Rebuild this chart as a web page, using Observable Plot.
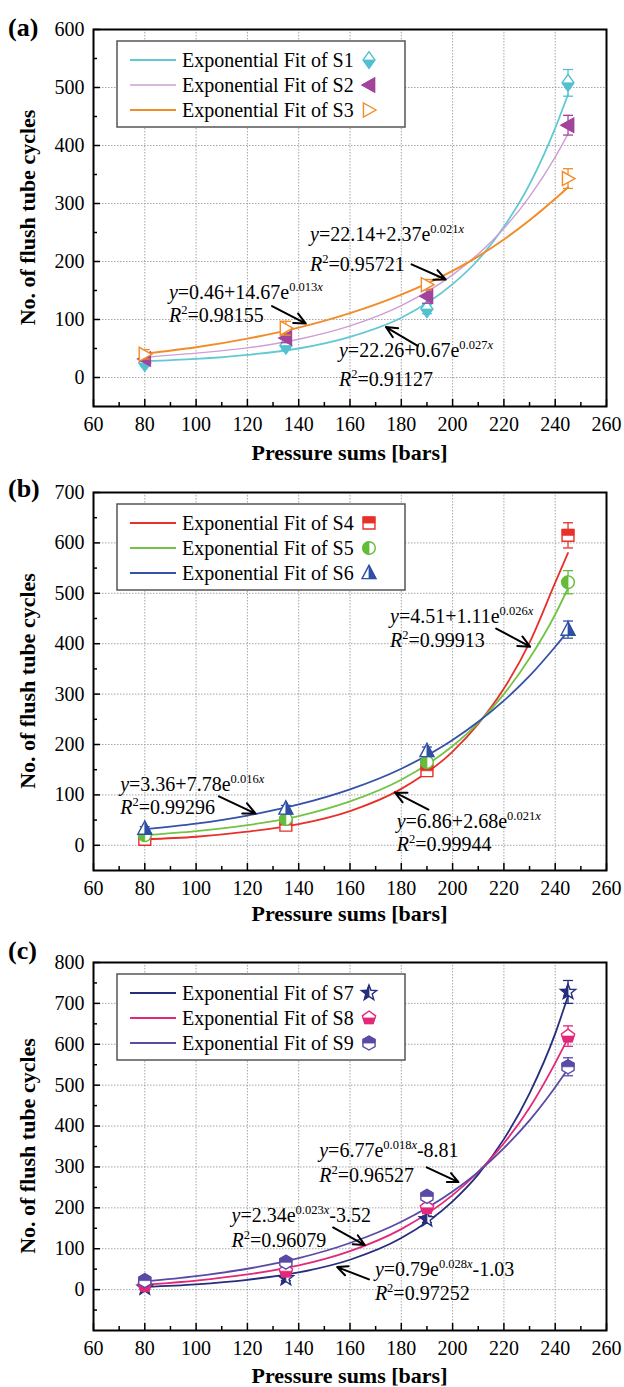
<!DOCTYPE html>
<html><head><meta charset="utf-8">
<script src="https://cdn.jsdelivr.net/npm/d3@7"></script>
<script src="https://cdn.jsdelivr.net/npm/@observablehq/plot@0.6"></script>
<style>
body{margin:0;background:#fff;}
#wrap{width:624px;}
svg{display:block;}
svg text{font-family:"Liberation Serif","Times New Roman",serif;}
</style></head><body><div id="wrap"></div>
<script>
// ---------- data ----------
const pressure = [80, 135, 190, 245];
const fitX = [80, 100, 120, 140, 160, 180, 200, 210, 220, 230, 240, 245];
const xLabels = [60, 80, 100, 120, 140, 160, 180, 200, 220, 240, 260];

// panel (a)
const s1 = [25, 55, 118, 508], s1Err = [5, 6, 8, 23];
const s2 = [32, 68, 140, 435], s2Err = [4, 8, 12, 17];
const s3 = [40, 85, 160, 343], s3Err = [8, 12, 9, 17];
const s1Fit = [28, 32, 39, 50, 70, 103, 161, 203, 260, 333, 430, 488];
const s2Fit = [35, 42, 51, 66, 89, 124, 177, 213, 257, 312, 380, 420];
const s3Fit = [41, 52, 67, 86, 111, 143, 184, 209, 238, 271, 308, 328];
const eqTextA = ["y=22.14+2.37e^{0.021x}", "R^{2}=0.95721", "y=0.46+14.67e^{0.013x}", "R^{2}=0.98155", "y=22.26+0.67e^{0.027x}", "R^{2}=0.91127"];
const eqXA = [144.4, 144.4, 89.4, 89.4, 155.7, 155.7];
const eqYA = [247, 195, 146, 106, 46, -3];
const arrowsA = [[184, 195, 197.3, 169], [129.6, 123, 142.8, 93], [186.4, 54.5, 174, 87]];

// panel (b)
const s4 = [12, 40, 148, 615], s4Err = [4, 5, 8, 25];
const s5 = [20, 52, 165, 522], s5Err = [3, 5, 8, 23];
const s6 = [33, 73, 187, 428], s6Err = [4, 6, 8, 17];
const s4Fit = [12, 17, 27, 42, 68, 112, 186, 241, 311, 402, 521, 580];
const s5Fit = [20, 28, 40, 58, 87, 130, 197, 243, 300, 371, 458, 510];
const s6Fit = [32, 43, 59, 81, 111, 152, 209, 245, 287, 336, 394, 425];
const eqTextB = ["y=4.51+1.11e^{0.026x}", "R^{2}=0.99913", "y=3.36+7.78e^{0.016x}", "R^{2}=0.99296", "y=6.86+2.68e^{0.021x}", "R^{2}=0.99944"];
const eqXB = [175.6, 175.6, 70.4, 70.4, 178.2, 178.2];
const eqYB = [453, 407, 120, 74, 48, 2];
const arrowsB = [[217, 430, 230.2, 394], [108.9, 97, 123.2, 63], [190.6, 71, 177.5, 105]];

// panel (c)
const s7 = [5, 28, 172, 728], s7Err = [4, 6, 8, 28];
const s8 = [10, 45, 200, 620], s8Err = [4, 6, 10, 25];
const s9 = [22, 67, 228, 545], s9Err = [4, 5, 10, 22];
const s7Fit = [7, 13, 24, 42, 73, 126, 216, 282, 368, 480, 626, 718];
const s8Fit = [12, 22, 37, 59, 94, 148, 231, 288, 358, 445, 554, 615];
const s9Fit = [20, 33, 51, 77, 114, 166, 240, 288, 346, 414, 495, 540];
const eqTextC = ["y=6.77e^{0.018x}-8.81", "R^{2}=0.96527", "y=2.34e^{0.023x}-3.52", "R^{2}=0.96079", "y=0.79e^{0.028x}-1.03", "R^{2}=0.97252"];
const eqXC = [148, 148, 113.8, 113.8, 169.7, 169.7];
const eqYC = [339, 279, 180, 120, 49, -10];
const arrowsC = [[189.9, 299, 202.3, 263], [153.4, 152, 165.8, 109], [167.4, 25, 155, 55]];

// ---------- marker shapes ----------
function starPts(r, ro, ri){const p=[];for(let k=0;k<10;k++){const a=-Math.PI/2+k*Math.PI/5;const rr=(k%2?ri:ro)*r;p.push([rr*Math.cos(a),rr*Math.sin(a)]);}return p;}
function poly(c, pts){c.moveTo(pts[0][0],pts[0][1]);for(let i=1;i<pts.length;i++)c.lineTo(pts[i][0],pts[i][1]);c.closePath();}
const shapes = {
  diamond:(c,r)=>poly(c,[[0,-1.2*r],[0.85*r,0],[0,1.2*r],[-0.85*r,0]]),
  diamondLow:(c,r)=>poly(c,[[-0.85*r,0],[0.85*r,0],[0,1.2*r]]),
  triLeft:(c,r)=>poly(c,[[-r,0],[0.8*r,-r],[0.8*r,r]]),
  triRight:(c,r)=>poly(c,[[r,0],[-0.8*r,-r],[-0.8*r,r]]),
  square:(c,r)=>{const a=0.85*r;poly(c,[[-a,-a],[a,-a],[a,a],[-a,a]]);},
  squareTop:(c,r)=>{const a=0.85*r;poly(c,[[-a,-a],[a,-a],[a,0],[-a,0]]);},
  circle:(c,r)=>{const a=0.9*r;c.moveTo(a,0);c.arc(0,0,a,0,2*Math.PI);c.closePath();},
  circleLeft:(c,r)=>{const a=0.9*r;c.moveTo(0,a);c.arc(0,0,a,Math.PI/2,1.5*Math.PI);c.closePath();},
  triUp:(c,r)=>poly(c,[[0,-1.1*r],[r,0.8*r],[-r,0.8*r]]),
  triUpRight:(c,r)=>poly(c,[[0,-1.1*r],[r,0.8*r],[0,0.8*r]]),
  star:(c,r)=>poly(c,starPts(r,1.15,0.48)),
  starLeft:(c,r)=>{const p=starPts(r,1.15,0.48);poly(c,[p[0],p[9],p[8],p[7],p[6],p[5]]);},
  pentagon:(c,r)=>poly(c,[[0,-r],[0.951*r,-0.309*r],[0.588*r,0.809*r],[-0.588*r,0.809*r],[-0.951*r,-0.309*r]]),
  pentagonLow:(c,r)=>poly(c,[[0.851*r,0],[0.588*r,0.809*r],[-0.588*r,0.809*r],[-0.851*r,0]]),
  hexagon:(c,r)=>poly(c,[[0,-r],[0.866*r,-0.5*r],[0.866*r,0.5*r],[0,r],[-0.866*r,0.5*r],[-0.866*r,-0.5*r]]),
  hexagonTop:(c,r)=>poly(c,[[-0.866*r,0],[-0.866*r,-0.5*r],[0,-r],[0.866*r,-0.5*r],[0.866*r,0]]),
  cap:(c,r)=>{c.moveTo(-r,0);c.lineTo(r,0);}
};
const sym = name => ({draw(ctx,size){shapes[name](ctx,Math.sqrt(size/Math.PI));}});

// ---------- panels ----------
const panels = [
  {tag:"(a)", height:472, mt:29, mb:66, tagY:27, titleGap:46,
   yDomain:[-50,600], yTicks:d3.range(0,601,100), yMinor:d3.range(50,600,100), yGrid:d3.range(0,501,100),
   series:[
     {name:"S1", y:s1, e:s1Err, fit:s1Fit, color:"#52c0cf", line:"#62c8d4", lw:1.8, full:"diamond", half:"diamondLow"},
     {name:"S2", y:s2, e:s2Err, fit:s2Fit, color:"#a2449b", line:"#cf9ed3", lw:1.4, full:"triLeft", half:"triLeft"},
     {name:"S3", y:s3, e:s3Err, fit:s3Fit, color:"#f28c28", line:"#f28c28", lw:2, full:"triRight", half:null}],
   eqText:eqTextA, eqX:eqXA, eqY:eqYA, arrows:arrowsA},
  {tag:"(b)", height:453, mt:20, mb:55, tagY:16, titleGap:43,
   yDomain:[-50,700], yTicks:d3.range(0,701,100), yMinor:d3.range(50,700,100), yGrid:d3.range(0,601,100),
   series:[
     {name:"S4", y:s4, e:s4Err, fit:s4Fit, color:"#e8302a", line:"#e8302a", lw:1.8, full:"square", half:"squareTop"},
     {name:"S5", y:s5, e:s5Err, fit:s5Fit, color:"#64bd3a", line:"#72c444", lw:1.8, full:"circle", half:"circleLeft"},
     {name:"S6", y:s6, e:s6Err, fit:s6Fit, color:"#2f4fa5", line:"#3551a8", lw:1.8, full:"triUp", half:"triUpRight"}],
   eqText:eqTextB, eqX:eqXB, eqY:eqYB, arrows:arrowsB},
  {tag:"(c)", height:462, mt:37, mb:57, tagY:25, titleGap:45,
   yDomain:[-100,800], yTicks:d3.range(0,801,100), yMinor:d3.range(-50,800,100), yGrid:d3.range(0,701,100),
   series:[
     {name:"S7", y:s7, e:s7Err, fit:s7Fit, color:"#262d7c", line:"#262d7c", lw:1.8, full:"star", half:"starLeft"},
     {name:"S8", y:s8, e:s8Err, fit:s8Fit, color:"#e3287a", line:"#e3287a", lw:1.8, full:"pentagon", half:"pentagonLow"},
     {name:"S9", y:s9, e:s9Err, fit:s9Fit, color:"#5a4aa6", line:"#5a4aa6", lw:1.8, full:"hexagon", half:"hexagonTop"}],
   eqText:eqTextC, eqX:eqXC, eqY:eqYC, arrows:arrowsC}
];

function richify(svg){
  d3.select(svg).selectAll("text").each(function(){
    const s = this.textContent;
    if (!s.includes("^{")) return;
    const el = d3.select(this); el.text(null);
    const parts = []; const re = /\^\{([^}]*)\}/g; let last = 0, m;
    while ((m = re.exec(s))) { parts.push({t:s.slice(last, m.index), sup:false}); parts.push({t:m[1], sup:true}); last = re.lastIndex; }
    parts.push({t:s.slice(last), sup:false});
    let shifted = false;
    parts.forEach((p, k) => {
      if (!p.t) return;
      if (p.sup) {
        const hasX = p.t.endsWith("x"); const main = hasX ? p.t.slice(0, -1) : p.t;
        el.append("tspan").attr("font-size", 12.5).attr("dy", -8).text(main);
        if (hasX) el.append("tspan").attr("font-size", 12.5).attr("font-style", "italic").text("x");
        shifted = true;
      } else {
        let t = p.t; let dy = shifted ? 8 : null; shifted = false;
        if (k === 0 && /^[yR]/.test(t)) { el.append("tspan").attr("font-style", "italic").text(t[0]); t = t.slice(1); }
        if (t) el.append("tspan").attr("dy", dy).text(t);
      }
    });
  });
}

const wrap = document.getElementById("wrap");
panels.forEach(cfg => {
  const innerW = 624 - 93 - 18, innerH = cfg.height - cfg.mt - cfg.mb;
  const marks = [];
  const gridStyle = {stroke:"#9c9c9c", strokeWidth:0.9, strokeDasharray:"1.5,1.5"};
  marks.push(Plot.ruleX(xLabels.slice(1, -1), {x:d=>d, ...gridStyle}));
  marks.push(Plot.ruleY(cfg.yGrid, {y:d=>d, ...gridStyle}));
  cfg.series.forEach(s => {
    marks.push(Plot.line(fitX.map((x, i) => ({x, y:s.fit[i]})), {x:"x", y:"y", stroke:s.line, strokeWidth:s.lw, curve:"monotone-x"}));
  });
  cfg.series.forEach(s => {
    const pts = pressure.map((x, i) => ({x, y:s.y[i], e:s.e[i]}));
    marks.push(Plot.ruleX(pts, {x:"x", y1:d=>d.y-d.e, y2:d=>d.y+d.e, stroke:s.color, strokeWidth:1.3}));
    marks.push(Plot.dot(pts, {x:"x", y:d=>d.y+d.e, symbol:sym("cap"), r:5, stroke:s.color, strokeWidth:1.3, fill:"none"}));
    marks.push(Plot.dot(pts, {x:"x", y:d=>d.y-d.e, symbol:sym("cap"), r:5, stroke:s.color, strokeWidth:1.3, fill:"none"}));
    marks.push(Plot.dot(pts, {x:"x", y:"y", symbol:sym(s.full), r:7, fill:"white", stroke:s.color, strokeWidth:1.4}));
    if (s.half) marks.push(Plot.dot(pts, {x:"x", y:"y", symbol:sym(s.half), r:7, fill:s.color, stroke:s.color, strokeWidth:0.8}));
  });
  // inward ticks
  marks.push(Plot.tickX(xLabels, {x:d=>d, insetTop:innerH-7, stroke:"black", strokeWidth:1.5}));
  marks.push(Plot.tickX(d3.range(70, 260, 20), {x:d=>d, insetTop:innerH-4, stroke:"black", strokeWidth:1.5}));
  marks.push(Plot.tickY(cfg.yTicks, {y:d=>d, insetRight:innerW-7, stroke:"black", strokeWidth:1.5}));
  marks.push(Plot.tickY(cfg.yMinor, {y:d=>d, insetRight:innerW-4, stroke:"black", strokeWidth:1.5}));
  // annotations
  marks.push(Plot.arrow(cfg.arrows.map(a => ({x1:a[0], y1:a[1], x2:a[2], y2:a[3]})), {x1:"x1", y1:"y1", x2:"x2", y2:"y2", stroke:"black", strokeWidth:2, headLength:10, headAngle:50}));
  marks.push(Plot.text(cfg.eqText.map((t, i) => ({t, x:cfg.eqX[i], y:cfg.eqY[i]})), {x:"x", y:"y", text:"t", textAnchor:"start", fontSize:20, fill:"black"}));
  marks.push(Plot.frame({stroke:"black", strokeWidth:2}));

  const svg = Plot.plot({
    width:624, height:cfg.height, marginLeft:93, marginRight:18, marginTop:cfg.mt, marginBottom:cfg.mb,
    style:{fontFamily:"Liberation Serif", fontSize:"20px", background:"white", color:"black", overflow:"visible"},
    x:{domain:[60,260], ticks:xLabels, tickSize:0, tickPadding:10, label:null},
    y:{domain:cfg.yDomain, ticks:cfg.yTicks, tickSize:0, tickPadding:9, label:null},
    marks
  });
  richify(svg);
  const g = d3.select(svg);
  g.selectAll('g[aria-label$="tick label"] text').attr("font-size", 20);
  // panel tag
  g.append("text").attr("x", 8).attr("y", cfg.tagY).attr("text-anchor", "start").attr("dominant-baseline", "central")
    .attr("font-size", 26).attr("font-weight", "bold").attr("fill", "black").text(cfg.tag);
  // axis titles
  g.append("text").attr("transform", `translate(27,${cfg.mt + innerH/2}) rotate(-90)`)
    .attr("text-anchor", "middle").attr("dominant-baseline", "central")
    .attr("font-size", 22).attr("font-weight", "bold").attr("fill", "black").text("No. of flush tube cycles");
  g.append("text").attr("x", 93 + innerW/2).attr("y", cfg.mt + innerH + cfg.titleGap)
    .attr("text-anchor", "middle").attr("dominant-baseline", "central")
    .attr("font-size", 22).attr("font-weight", "bold").attr("fill", "black").text("Pressure sums [bars]");
  // legend
  const lg = g.append("g").attr("text-anchor", "start");
  lg.append("rect").attr("x", 117).attr("y", cfg.mt + 12).attr("width", 288).attr("height", 86)
    .attr("fill", "white").attr("stroke", "#555").attr("stroke-width", 1.5);
  cfg.series.forEach((s, i) => {
    const cy = cfg.mt + 31 + i * 25;
    lg.append("line").attr("x1", 130).attr("x2", 176).attr("y1", cy).attr("y2", cy).attr("stroke", s.line).attr("stroke-width", s.lw);
    lg.append("text").attr("x", 182).attr("y", cy).attr("text-anchor", "start").attr("dominant-baseline", "central").attr("font-size", 20).attr("fill", "black").text("Exponential Fit of " + s.name);
    const p1 = d3.path(); shapes[s.full](p1, 7);
    lg.append("path").attr("transform", `translate(369,${cy})`).attr("d", p1.toString()).attr("fill", "white").attr("stroke", s.color).attr("stroke-width", 1.4);
    if (s.half) { const p2 = d3.path(); shapes[s.half](p2, 7);
      lg.append("path").attr("transform", `translate(369,${cy})`).attr("d", p2.toString()).attr("fill", s.color).attr("stroke", s.color).attr("stroke-width", 0.8); }
  });
  wrap.appendChild(svg);
});
</script></body></html>
